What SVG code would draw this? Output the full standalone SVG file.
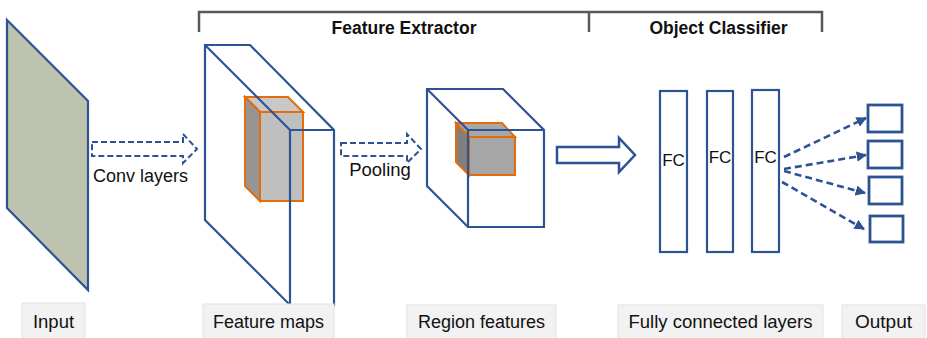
<svg xmlns="http://www.w3.org/2000/svg" width="927" height="338" viewBox="0 0 927 338">
<defs>
<style>
.b{fill:none;stroke:#2e5395;stroke-width:2.2;stroke-linejoin:miter}
.bw{fill:#fff;stroke:#2e5395;stroke-width:2.2}
.o{stroke:#e46c0a;stroke-width:2;stroke-linejoin:miter}
.da{fill:#fff;stroke:#2e5395;stroke-width:2;stroke-dasharray:6 3}
.dl{fill:none;stroke:#2e5395;stroke-width:2.6;stroke-dasharray:7 4}
.t{font-family:"Liberation Sans",Arial,sans-serif;fill:#111;text-anchor:middle}
.hd{font-family:"Liberation Sans",Arial,sans-serif;font-weight:bold;font-size:17.5px;fill:#111;text-anchor:middle}
.lab{fill:#f2f2f2;stroke:#e2e2e2;stroke-width:1}
</style>
<marker id="ah" viewBox="0 0 10 10" refX="9" refY="5" markerWidth="4" markerHeight="4" orient="auto" markerUnits="strokeWidth">
<path d="M0,0 L10,5 L0,10 z" fill="#2e5395"/>
</marker>
</defs>
<rect width="927" height="338" fill="#fff"/>

<g id="bracket" fill="none" stroke="#595959" stroke-width="2.5">
<path d="M199,32 V12 H822 V32"/>
<path d="M589,12 V32"/>
</g>
<text class="hd" x="404" y="34">Feature Extractor</text>
<text class="hd" x="718.5" y="34">Object Classifier</text>

<g id="input">
<polygon points="7,20 88,101 88,290 7,208" fill="#bec3b0" stroke="#2e5395" stroke-width="2.2"/>
</g>

<g id="feature-maps">
<g id="fm-cuboid">
<polygon class="o" points="245,97 288,97 303,112 260,112" fill="#c8c8c8"/>
<polygon class="o" points="245,97 260,112 260,201 245,186" fill="#959595"/>
<rect class="o" x="260" y="112" width="43" height="89" fill="#bfbfbf"/>
</g>
<polygon class="b" points="205,45 250,45 334,130 334,305 290,305 205,220"/>
<path class="b" d="M205,45 L290,130 H334 M290,130 V305"/>
</g>

<g id="region-features">
<polygon class="b" points="427,89 503,89 544,130 544,227 468,227 427,186"/>
<g id="rf-cube">
<polygon class="o" points="456,123 502,123 515,137 469,137" fill="#a8a8a8"/>
<polygon class="o" points="456,123 469,137 469,175 456,162" fill="#808080"/>
<rect class="o" x="469" y="137" width="46" height="38" fill="#a6a6a6"/>
</g>
<path class="b" d="M427,89 L468,130 H544 M468,130 V227"/>
</g>

<g id="fc1"><rect class="b" x="660" y="91" width="27" height="161"/><text class="t" x="673.5" y="166" font-size="17">FC</text></g>
<g id="fc2"><rect class="b" x="707" y="91" width="26" height="161"/><text class="t" x="720" y="163" font-size="17">FC</text></g>
<g id="fc3"><rect class="b" x="752" y="90" width="27" height="162"/><text class="t" x="765.5" y="163" font-size="17">FC</text></g>

<g id="out1"><rect x="868" y="105" width="34" height="27" fill="none" stroke="#2e5395" stroke-width="2.8"/></g>
<g id="out2"><rect x="868" y="141" width="34" height="27" fill="none" stroke="#2e5395" stroke-width="2.8"/></g>
<g id="out3"><rect x="869" y="177" width="33" height="27" fill="none" stroke="#2e5395" stroke-width="2.8"/></g>
<g id="out4"><rect x="870" y="216" width="33" height="26" fill="none" stroke="#2e5395" stroke-width="2.8"/></g>

<g id="connectors">
<polygon class="da" points="92,142 183,142 183,134 197,149 183,163 183,156 92,156"/>
<polygon class="da" points="341,143 407,143 407,134 421,149 407,163 407,156 341,156"/>
<polygon points="557,147 619,147 619,138 635,155 619,172 619,163 557,163" fill="#fff" stroke="#2e5395" stroke-width="2.5"/>
<line class="dl" x1="784" y1="157" x2="866" y2="118" marker-end="url(#ah)"/>
<line class="dl" x1="784" y1="169" x2="866" y2="155" marker-end="url(#ah)"/>
<line class="dl" x1="784" y1="171" x2="865" y2="193" marker-end="url(#ah)"/>
<line class="dl" x1="782" y1="182" x2="864" y2="229" marker-end="url(#ah)"/>
</g>
<text class="t" x="140.5" y="182" font-size="18">Conv layers</text>
<text class="t" x="380" y="176" font-size="18.5">Pooling</text>

<g id="labels">
<g id="lbl-input"><rect class="lab" x="22" y="303" width="63" height="40"/><text class="t" x="53.5" y="328" font-size="18.5">Input</text></g>
<g id="lbl-fm"><rect class="lab" x="203" y="304" width="131" height="40"/><text class="t" x="268.5" y="328" font-size="18">Feature maps</text></g>
<g id="lbl-rf"><rect class="lab" x="407" y="305" width="149" height="40"/><text class="t" x="481.5" y="328" font-size="18">Region features</text></g>
<g id="lbl-fc"><rect class="lab" x="618" y="305" width="205" height="40"/><text class="t" x="720.5" y="328" font-size="18.5">Fully connected layers</text></g>
<g id="lbl-out"><rect class="lab" x="842" y="305" width="83" height="40"/><text class="t" x="883.5" y="328" font-size="19">Output</text></g>
</g>
</svg>
